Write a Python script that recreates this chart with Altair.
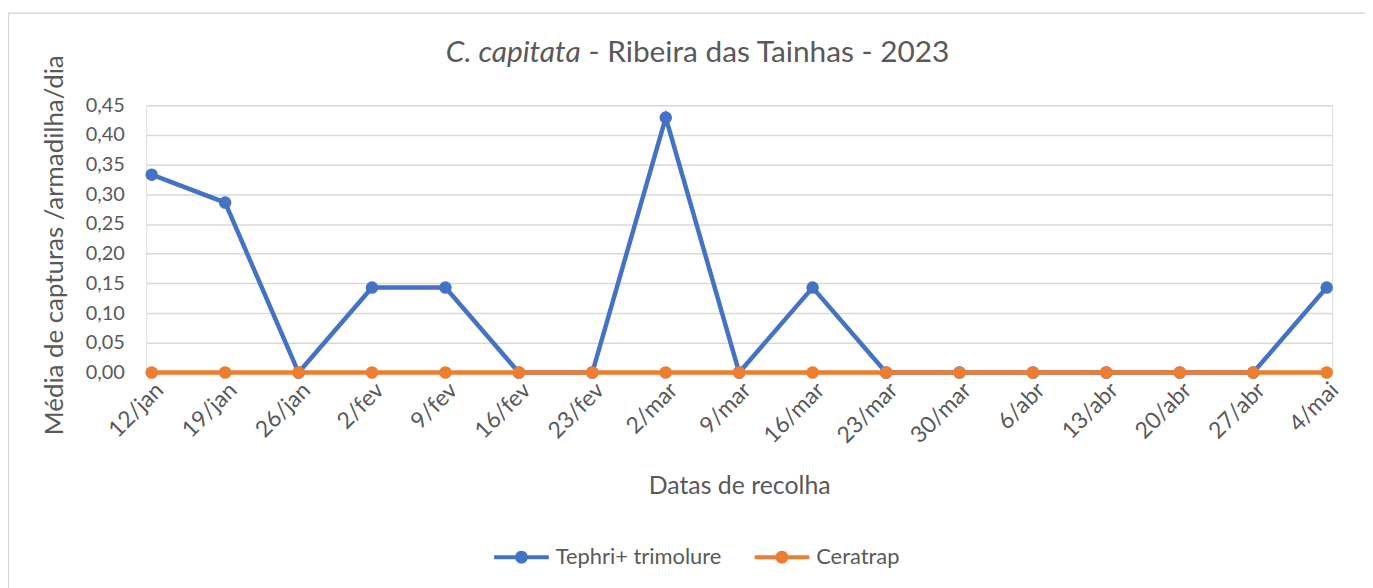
import altair as alt
import pandas as pd

dates = ["12/jan", "19/jan", "26/jan", "2/fev", "9/fev", "16/fev", "23/fev", "2/mar",
         "9/mar", "16/mar", "23/mar", "30/mar", "6/abr", "13/abr", "20/abr", "27/abr", "4/mai"]
tephri = [0.333, 0.286, 0.0, 0.143, 0.143, 0.0, 0.0, 0.429,
          0.0, 0.143, 0.0, 0.0, 0.0, 0.0, 0.0, 0.0, 0.143]
ceratrap = [0.0] * 17
series_names = ["Tephri+ trimolure", "Ceratrap"]
colors = ["#4472C4", "#ED7D31"]
y_ticks = [0.0, 0.05, 0.10, 0.15, 0.20, 0.25, 0.30, 0.35, 0.40, 0.45]

rows = []
for d, v in zip(dates, tephri):
    rows.append({"data": d, "serie": series_names[0], "valor": v})
for d, v in zip(dates, ceratrap):
    rows.append({"data": d, "serie": series_names[1], "valor": v})
df = pd.DataFrame(rows)

FONT = "Lato"
TXT = "#595959"
W, H = 1193, 269

color_scale = alt.Scale(domain=series_names, range=colors)
legend_path = ("M-1.5,-0.11 L1.5,-0.11 L1.5,0.11 L-1.5,0.11 Z "
               "M-0.35,0 A0.35,0.35 0 1,1 0.35,0 A0.35,0.35 0 1,1 -0.35,0 Z")

x_enc = alt.X("data:N", sort=dates, scale=alt.Scale(type="point", padding=0.075),
              axis=alt.Axis(title="Datas de recolha", labelAngle=-45, labelFontSize=23,
                            labelColor=TXT, labelFont=FONT, labelPadding=6, ticks=False,
                            domain=False, grid=False, titleFontSize=25, titleColor=TXT,
                            titleFont=FONT, titleFontWeight="normal", titleX=W / 2,
                            titleY=114, titleBaseline="middle", titleAnchor="middle",
                            titleAlign="center"))
y_enc = alt.Y("valor:Q", scale=alt.Scale(domain=[0, 0.45], nice=False, zero=True),
              axis=alt.Axis(title="Média de capturas /armadilha/dia", values=y_ticks,
                            labelExpr="replace(format(datum.value, '.2f'), '.', ',')",
                            labelFontSize=20, labelColor=TXT, labelFont=FONT,
                            labelPadding=22, ticks=False, domain=False, grid=True,
                            gridColor="#d9d9d9", gridWidth=1.5, titleFontSize=26,
                            titleColor=TXT, titleFont=FONT, titleFontWeight="normal",
                            titleAngle=-90, titleX=-92, titleY=H / 2 + 6,
                            titleAlign="center", titleBaseline="middle"))
color_enc = alt.Color("serie:N", scale=color_scale,
                      legend=alt.Legend(title=None, orient="none", direction="horizontal",
                                        legendX=359, legendY=436, symbolType=legend_path,
                                        symbolSize=1344, symbolStrokeWidth=0,
                                        labelFontSize=22, labelColor=TXT, labelFont=FONT,
                                        labelLimit=400, labelOffset=16, columnPadding=33,
                                        padding=0))

base = alt.Chart(df)
line_blue = base.transform_filter(alt.datum.serie == series_names[0]).mark_line(
    strokeWidth=4.5, point=alt.OverlayMarkDef(filled=True, size=160, opacity=1)
).encode(x=x_enc, y=y_enc, color=color_enc)
line_orange = base.transform_filter(alt.datum.serie == series_names[1]).mark_line(
    strokeWidth=4.5, point=alt.OverlayMarkDef(filled=True, size=160, opacity=1)
).encode(x=x_enc, y=y_enc, color=color_enc)

frame = alt.Chart(alt.Data(values=[{"k": 1}])).mark_rect(
    fill=None, stroke="#d9d9d9", strokeWidth=1.5
).encode(x=alt.value(-138.5), x2=alt.value(W + 60), y=alt.value(-92.5), y2=alt.value(H + 260))

title_it = alt.Chart(alt.Data(values=[{"t": "C. capitata"}])).mark_text(
    font=FONT, fontSize=30, fontStyle="italic", color=TXT, align="right", baseline="middle"
).encode(x=alt.value(437), y=alt.value(-52), text="t:N")
title_rest = alt.Chart(alt.Data(values=[{"t": "- Ribeira das Tainhas - 2023"}])).mark_text(
    font=FONT, fontSize=30, color=TXT, align="left", baseline="middle", dx=8
).encode(x=alt.value(437), y=alt.value(-52), text="t:N")

chart = alt.layer(frame, line_blue, line_orange, title_it, title_rest).properties(
    width=W, height=H,
    padding={"left": 139, "top": 96, "right": 33, "bottom": 215},
    autosize=alt.AutoSizeParams(type="none"),
).configure_view(stroke=None).configure(background="white")

chart.save("out.html", embed_options={"renderer": "svg", "actions": False})
